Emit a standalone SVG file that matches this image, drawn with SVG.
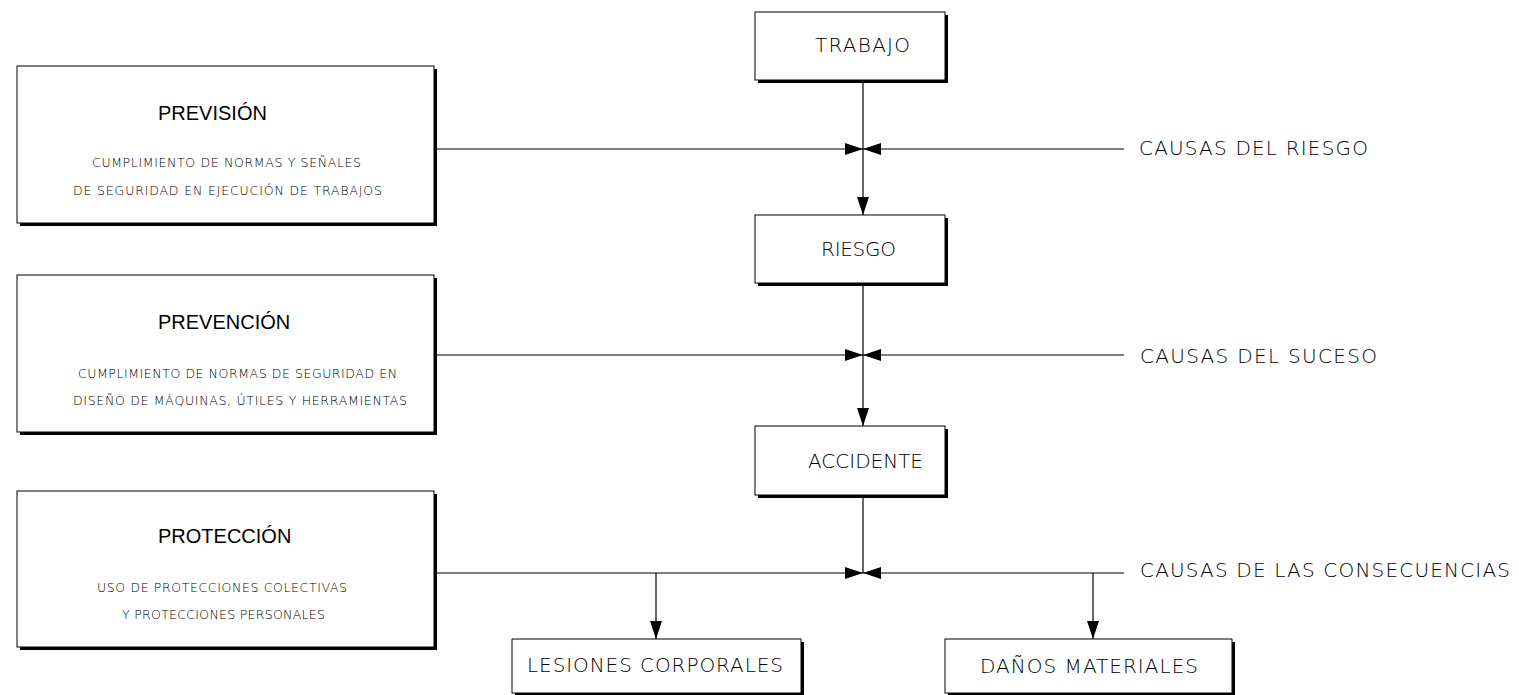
<svg xmlns="http://www.w3.org/2000/svg" width="1519" height="695" viewBox="0 0 1519 695">
<style>
.shadow{fill:#000}
.box{fill:#fff;stroke:#000;stroke-width:1}
.title{font-family:"Liberation Sans",Arial,sans-serif;font-size:20px;fill:#000}
.sub{font-family:"DejaVu Sans",sans-serif;font-weight:200;font-size:12.5px;fill:#000}
.lbl{font-family:"DejaVu Sans",sans-serif;font-weight:200;font-size:20px;fill:#000}
.ln{stroke:#000;stroke-width:1.2;fill:none}
</style>
<defs>
<marker id="ah" markerUnits="userSpaceOnUse" markerWidth="18" markerHeight="12" viewBox="0 0 18 12" refX="18" refY="6" orient="auto">
<path d="M0,0 L18,6 L0,12 z" fill="#000"/>
</marker>
</defs>
<rect width="1519" height="695" fill="#fff"/>

<g id="prevision">
<rect class="shadow" x="20" y="69" width="417" height="157"/>
<rect class="box" x="17" y="66" width="417" height="157"/>
<text class="title" x="158" y="120">PREVISIÓN</text>
<text class="sub" x="92" y="167" textLength="269" lengthAdjust="spacing">CUMPLIMIENTO DE NORMAS Y SEÑALES</text>
<text class="sub" x="73" y="195" textLength="309" lengthAdjust="spacing">DE SEGURIDAD EN EJECUCIÓN DE TRABAJOS</text>
</g>

<g id="prevencion">
<rect class="shadow" x="20" y="278" width="417" height="157"/>
<rect class="box" x="17" y="275" width="417" height="157"/>
<text class="title" x="158" y="329">PREVENCIÓN</text>
<text class="sub" x="78" y="378" textLength="319" lengthAdjust="spacing">CUMPLIMIENTO DE NORMAS DE SEGURIDAD EN</text>
<text class="sub" x="73" y="405" textLength="334" lengthAdjust="spacing">DISEÑO DE MÁQUINAS, ÚTILES Y HERRAMIENTAS</text>
</g>

<g id="proteccion">
<rect class="shadow" x="20" y="494" width="417" height="156"/>
<rect class="box" x="17" y="491" width="417" height="156"/>
<text class="title" x="158" y="543">PROTECCIÓN</text>
<text class="sub" x="97" y="592" textLength="250" lengthAdjust="spacing">USO DE PROTECCIONES COLECTIVAS</text>
<text class="sub" x="122" y="619" textLength="203" lengthAdjust="spacing">Y PROTECCIONES PERSONALES</text>
</g>

<g id="trabajo">
<rect class="shadow" x="758" y="15" width="190" height="68"/>
<rect class="box" x="755" y="12" width="190" height="68"/>
<text class="lbl" x="815" y="52" textLength="95" lengthAdjust="spacing">TRABAJO</text>
</g>

<g id="riesgo">
<rect class="shadow" x="758" y="218" width="190" height="68"/>
<rect class="box" x="755" y="215" width="190" height="68"/>
<text class="lbl" x="821" y="256" textLength="75" lengthAdjust="spacing">RIESGO</text>
</g>

<g id="accidente">
<rect class="shadow" x="758" y="429" width="190" height="69"/>
<rect class="box" x="755" y="426" width="190" height="69"/>
<text class="lbl" x="808" y="468" textLength="115" lengthAdjust="spacing">ACCIDENTE</text>
</g>

<g id="lesiones">
<rect class="shadow" x="515" y="642" width="289" height="54"/>
<rect class="box" x="512" y="639" width="289" height="54"/>
<text class="lbl" x="527" y="672" textLength="256" lengthAdjust="spacing">LESIONES CORPORALES</text>
</g>

<g id="danos">
<rect class="shadow" x="948" y="642" width="287" height="54"/>
<rect class="box" x="945" y="639" width="287" height="54"/>
<text class="lbl" x="980" y="673" textLength="218" lengthAdjust="spacing">DAÑOS MATERIALES</text>
</g>

<g id="causas-riesgo">
<text class="lbl" x="1139" y="155" textLength="229" lengthAdjust="spacing">CAUSAS DEL RIESGO</text>
</g>
<g id="causas-suceso">
<text class="lbl" x="1140" y="363" textLength="237" lengthAdjust="spacing">CAUSAS DEL SUCESO</text>
</g>
<g id="causas-consecuencias">
<text class="lbl" x="1140" y="577" textLength="370" lengthAdjust="spacing">CAUSAS DE LAS CONSECUENCIAS</text>
</g>

<g id="connectors">
<line class="ln" x1="863" y1="80" x2="863" y2="215" marker-end="url(#ah)"/>
<line class="ln" x1="434" y1="149" x2="863" y2="149" marker-end="url(#ah)"/>
<line class="ln" x1="1124" y1="149" x2="863" y2="149" marker-end="url(#ah)"/>

<line class="ln" x1="863" y1="283" x2="863" y2="426" marker-end="url(#ah)"/>
<line class="ln" x1="434" y1="355" x2="863" y2="355" marker-end="url(#ah)"/>
<line class="ln" x1="1124" y1="355" x2="863" y2="355" marker-end="url(#ah)"/>

<line class="ln" x1="863" y1="495" x2="863" y2="573"/>
<line class="ln" x1="434" y1="573" x2="863" y2="573" marker-end="url(#ah)"/>
<line class="ln" x1="1124" y1="573" x2="863" y2="573" marker-end="url(#ah)"/>
<line class="ln" x1="656" y1="573" x2="656" y2="639" marker-end="url(#ah)"/>
<line class="ln" x1="1093" y1="573" x2="1093" y2="639" marker-end="url(#ah)"/>
</g>
</svg>
